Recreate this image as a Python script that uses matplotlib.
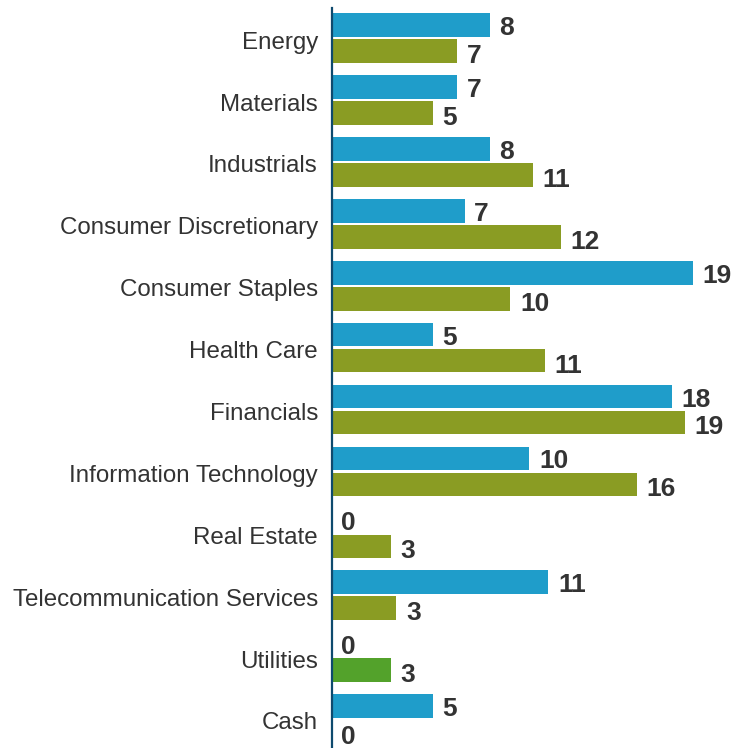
import matplotlib
matplotlib.use("Agg")
import matplotlib.pyplot as plt
import matplotlib.transforms as mtransforms
import numpy as np

plt.rcParams['font.family'] = ['Liberation Sans', 'DejaVu Sans']

# sector names, top to bottom
sectors = ['Energy', 'Materials', 'Industrials', 'Consumer Discretionary',
           'Consumer Staples', 'Health Care', 'Financials',
           'Information Technology', 'Real Estate',
           'Telecommunication Services', 'Utilities', 'Cash']

# bar lengths, plus the printed (rounded) labels
blue_vals = [8.3, 6.6, 8.3, 7.0, 19.0, 5.3, 17.9, 10.4, 0, 11.4, 0, 5.3]
blue_labels = ['8', '7', '8', '7', '19', '5', '18', '10', '0', '11', '0', '5']
green_vals = [6.6, 5.3, 10.6, 12.05, 9.4, 11.2, 18.6, 16.05, 3.1, 3.4, 3.1, 0]
green_labels = ['7', '5', '11', '12', '10', '11', '19', '16', '3', '3', '3', '0']

blue = '#1f9dca'
olive = '#8a9c23'
green_hl = '#53a22b'  # utilities bar is a different green
green_colors = [green_hl if s == 'Utilities' else olive for s in sectors]

fig = plt.figure(figsize=(7.34, 7.48), dpi=100)
ax = fig.add_axes([0.452, 0.0, 0.548, 0.989])

y = np.arange(len(sectors))
h = 0.38
off = 0.21

ax.barh(y - off, blue_vals, height=h, color=blue)
ax.barh(y + off, green_vals, height=h, color=green_colors)

for yi, v, lab in zip(y, blue_vals, blue_labels):
    ax.text(v + 0.5, yi - off + 0.05, lab, va='center', ha='left',
            fontsize=19, fontweight='bold', color='#333333')
for yi, v, lab in zip(y, green_vals, green_labels):
    ax.text(v + 0.5, yi + off + 0.08, lab, va='center', ha='left',
            fontsize=19, fontweight='bold', color='#333333')

ax.set_ylim(len(sectors) - 1 + 0.47, -0.485)
ax.set_xlim(0, 21.16)
ax.set_yticks(y)
ax.set_yticklabels(sectors, fontsize=17.4, color='#333333')
ax.tick_params(axis='y', length=0, pad=10)
ax.set_xticks([])

# nudge the sector names down a touch
shift = mtransforms.ScaledTranslation(0, -2 / 100, fig.dpi_scale_trans)
for t in ax.get_yticklabels():
    t.set_transform(t.get_transform() + shift)

for s in ['top', 'right', 'bottom']:
    ax.spines[s].set_visible(False)
ax.spines['left'].set_color('#0e4a6e')
ax.spines['left'].set_linewidth(1.6)

fig.savefig('out.png', dpi=100)
